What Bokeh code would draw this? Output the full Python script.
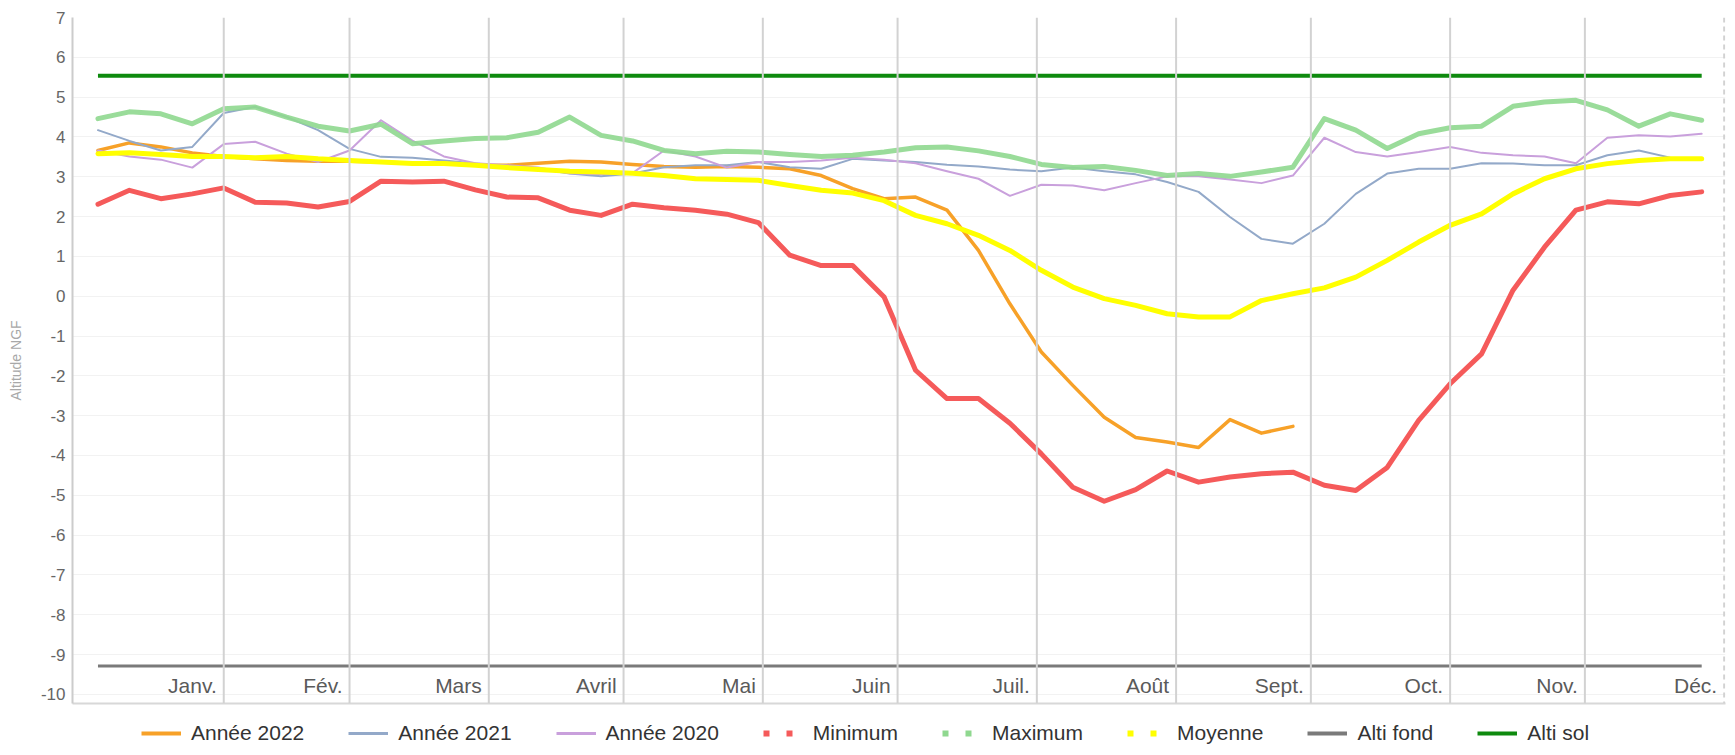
from bokeh.plotting import figure
from bokeh.layouts import column
from bokeh.models import Range1d, FixedTicker, Span, Legend, LegendItem
from bokeh.core.properties import value
from bokeh.embed import file_html
from bokeh.resources import INLINE

# ---------------- data ----------------
DAYS = list(range(3, 361, 7))  # weekly samples, day of year

ANNEE_2022 = [3.66, 3.85, 3.75, 3.60, 3.51, 3.45, 3.41, 3.39, 3.39, 3.37, 3.34,
              3.33, 3.29, 3.29, 3.34, 3.39, 3.37, 3.31, 3.26, 3.24, 3.26, 3.24,
              3.20, 3.03, 2.70, 2.45, 2.49, 2.16, 1.15, -0.19, -1.40, -2.24, -3.04,
              -3.55, -3.66, -3.80, -3.10, -3.44, -3.27]
ANNEE_2021 = [4.17, 3.90, 3.66, 3.75, 4.60, 4.76, 4.50, 4.17, 3.70, 3.50, 3.48,
              3.41, 3.33, 3.26, 3.20, 3.08, 3.01, 3.08, 3.24, 3.29, 3.29, 3.37,
              3.24, 3.20, 3.45, 3.41, 3.37, 3.30, 3.26, 3.18, 3.14, 3.23, 3.14,
              3.06, 2.87, 2.62, 1.99, 1.44, 1.32, 1.82, 2.57, 3.08, 3.20,
              3.20, 3.34, 3.33, 3.29, 3.29, 3.54, 3.66, 3.48, 3.45]
ANNEE_2020 = [3.66, 3.51, 3.43, 3.23, 3.82, 3.88, 3.58, 3.37, 3.66, 4.42, 3.91,
              3.51, 3.34, 3.29, 3.23, 3.09, 3.06, 3.09, 3.66, 3.51, 3.23, 3.37,
              3.37, 3.41, 3.48, 3.43, 3.34, 3.14, 2.95, 2.52, 2.80, 2.78, 2.66,
              2.84, 3.01, 3.01, 2.93, 2.84, 3.03, 3.98, 3.62, 3.51, 3.62,
              3.75, 3.60, 3.54, 3.51, 3.34, 3.98, 4.04, 4.01, 4.08]
MINIMUM = [2.31, 2.66, 2.45, 2.57, 2.72, 2.36, 2.34, 2.24, 2.38, 2.89, 2.87,
           2.89, 2.67, 2.49, 2.47, 2.16, 2.03, 2.31, 2.22, 2.16, 2.06, 1.85,
           1.03, 0.77, 0.77, -0.02, -1.86, -2.57, -2.57, -3.19, -3.96, -4.80, -5.15,
           -4.86, -4.39, -4.67, -4.54, -4.46, -4.42, -4.75, -4.88, -4.30, -3.12,
           -2.20, -1.45, 0.15, 1.23, 2.16, 2.37, 2.32, 2.53, 2.62]
MAXIMUM = [4.46, 4.63, 4.58, 4.33, 4.71, 4.75, 4.50, 4.27, 4.15, 4.32, 3.83,
           3.90, 3.96, 3.98, 4.12, 4.50, 4.04, 3.90, 3.66, 3.58, 3.64, 3.62,
           3.56, 3.51, 3.54, 3.62, 3.73, 3.75, 3.65, 3.51, 3.31, 3.23, 3.26,
           3.16, 3.03, 3.08, 3.01, 3.12, 3.24, 4.46, 4.17, 3.71, 4.08,
           4.23, 4.27, 4.77, 4.88, 4.92, 4.68, 4.27, 4.58, 4.42]
MOYENNE = [3.58, 3.60, 3.56, 3.51, 3.51, 3.48, 3.51, 3.45, 3.41, 3.37, 3.33,
           3.33, 3.29, 3.23, 3.18, 3.14, 3.12, 3.09, 3.03, 2.95, 2.93, 2.91,
           2.78, 2.66, 2.59, 2.40, 2.03, 1.82, 1.53, 1.15, 0.65, 0.23, -0.06,
           -0.23, -0.44, -0.52, -0.52, -0.11, 0.06, 0.21, 0.48, 0.90, 1.36,
           1.78, 2.07, 2.57, 2.95, 3.20, 3.33, 3.41, 3.45, 3.45]
ALTI_FOND = -9.29
ALTI_SOL = 5.54

MONTHS = ["Janv.", "Fév.", "Mars", "Avril", "Mai", "Juin", "Juil.", "Août",
          "Sept.", "Oct.", "Nov.", "Déc."]
MONTH_END = [31, 59, 90, 120, 151, 181, 212, 243, 273, 304, 334, 365]
Y_TICKS = list(range(-10, 8))

# ---------------- styles ----------------
FONT = "Liberation Sans"
C_2022 = "#f7a128"
C_2021 = "#93a9c9"
C_2020 = "#c9a0dc"
C_MIN = "#f55a5a"
C_MAX = "#8fd88f"
C_MOY = "#ffff00"
C_FOND = "#7a7a7a"
C_SOL = "#0e8a0e"

Y_MIN, Y_MAX = -10.23, 7.0
W = 1735

p = figure(width=W, height=710, output_backend="svg", toolbar_location=None,
           x_range=Range1d(-2.67, 365.3), y_range=Range1d(Y_MIN, Y_MAX),
           min_border_left=72, min_border_right=10, min_border_top=17,
           min_border_bottom=7)
p.outline_line_color = None
p.background_fill_color = "white"

# axes
p.yaxis.ticker = FixedTicker(ticks=Y_TICKS)
p.yaxis.major_label_overrides = {t: str(t) for t in Y_TICKS}
p.yaxis.major_tick_out = 0
p.yaxis.major_tick_in = 0
p.yaxis.minor_tick_line_color = None
p.yaxis.major_label_standoff = 7
p.yaxis.major_label_text_font = FONT
p.yaxis.major_label_text_font_size = "17px"
p.yaxis.major_label_text_color = "#666666"
p.yaxis.axis_line_color = "#cccccc"
p.yaxis.axis_line_width = 2
p.yaxis.axis_label = "Altitude NGF"
p.yaxis.axis_label_text_font = FONT
p.yaxis.axis_label_text_font_size = "14px"
p.yaxis.axis_label_text_font_style = "normal"
p.yaxis.axis_label_text_color = "#a8a8a8"
p.yaxis.axis_label_standoff = 14

p.xaxis.ticker = FixedTicker(ticks=[])
p.xaxis.major_tick_out = 0
p.xaxis.major_tick_in = 0
p.xaxis.minor_tick_line_color = None
p.xaxis.major_label_standoff = 0
p.xaxis.axis_line_color = "#d8d8d8"
p.xaxis.axis_line_width = 2

p.xgrid.visible = False
p.ygrid.ticker = FixedTicker(ticks=Y_TICKS)
p.ygrid.grid_line_color = "#f2f2f2"
p.ygrid.grid_line_width = 1

# month separators
for i, d in enumerate(MONTH_END):
    last = i == len(MONTH_END) - 1
    p.add_layout(Span(location=d, dimension="height",
                      line_color="#d2d2d2", line_width=2,
                      line_dash="5 4" if last else "solid"))

# month labels (right-aligned against the month end line)
p.text(x=MONTH_END, y=[Y_MIN] * len(MONTH_END), text=MONTHS,
       x_offset=-7, y_offset=-18, text_align="right", text_baseline="middle",
       text_font=value(FONT), text_font_size="21px", text_color="#5a5a5a")

# series
n22 = len(ANNEE_2022)
JOIN = dict(line_join="round", line_cap="round")
p.line(DAYS[:n22], ANNEE_2022, line_color=C_2022, line_width=3.5, **JOIN)
p.line(DAYS, ANNEE_2021, line_color=C_2021, line_width=2, **JOIN)
p.line(DAYS, ANNEE_2020, line_color=C_2020, line_width=2, **JOIN)
p.line(DAYS, MINIMUM, line_color=C_MIN, line_width=5, **JOIN)
p.line(DAYS, MAXIMUM, line_color=C_MAX, line_width=5, line_alpha=0.9, **JOIN)
p.line(DAYS, MOYENNE, line_color=C_MOY, line_width=5, **JOIN)
p.line([DAYS[0], DAYS[-1]], [ALTI_FOND, ALTI_FOND], line_color=C_FOND, line_width=3)
p.line([DAYS[0], DAYS[-1]], [ALTI_SOL, ALTI_SOL], line_color=C_SOL, line_width=4)

# ---------------- legend strip ----------------
lg = figure(width=W, height=45, output_backend="svg", toolbar_location=None,
            x_range=Range1d(0, 1), y_range=Range1d(0, 1),
            min_border_left=0, min_border_right=0, min_border_top=0,
            min_border_bottom=0)
lg.axis.visible = False
lg.grid.visible = False
lg.outline_line_color = None

NAN = [float("nan")]
def proxy(color, width, dash="solid"):
    return lg.line(NAN, NAN, line_color=color, line_width=width, line_dash=dash)

items = [
    ("Année 2022", proxy(C_2022, 4)),
    ("Année 2021", proxy(C_2021, 3)),
    ("Année 2020", proxy(C_2020, 3)),
    ("Minimum", proxy(C_MIN, 6, "6 17")),
    ("Maximum", proxy(C_MAX, 6, "6 17")),
    ("Moyenne", proxy(C_MOY, 6, "6 17")),
    ("Alti fond", proxy(C_FOND, 4)),
    ("Alti sol", proxy(C_SOL, 4)),
]
legend = Legend(items=[LegendItem(label=t, renderers=[r]) for t, r in items],
                orientation="horizontal", location=(69, 10))
legend.label_text_font = FONT
legend.label_text_font_size = "21px"
legend.label_text_color = "#333333"
legend.glyph_width = 40
legend.glyph_height = 20
legend.label_standoff = 10
legend.spacing = 44
legend.padding = 4
legend.margin = 0
legend.border_line_color = None
legend.background_fill_alpha = 0
lg.add_layout(legend)

layout = column(p, lg, spacing=0)
open("out.html", "w").write(file_html(layout, INLINE))
